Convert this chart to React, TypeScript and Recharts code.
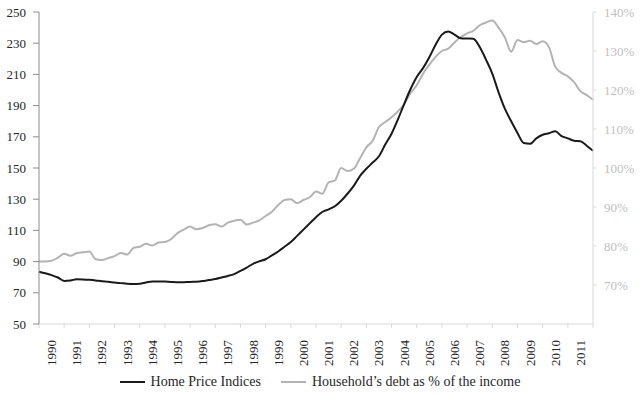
import React from 'react';
import { LineChart, Line, XAxis, YAxis } from 'recharts';

const startYear = 1990;
const endYear = 2012;

const yearTicks = [
  1990, 1991, 1992, 1993, 1994, 1995, 1996, 1997, 1998, 1999, 2000, 2001,
  2002, 2003, 2004, 2005, 2006, 2007, 2008, 2009, 2010, 2011, 2012,
];
const leftTicks = [50, 70, 90, 110, 130, 150, 170, 190, 210, 230, 250];
const rightTicks = [70, 80, 90, 100, 110, 120, 130, 140];

// quarterly values, 1990 Q1 ... 2012 Q1
const homePrice = [
  83.5, 82.5, 81.3, 79.8,
  77.6, 77.9, 78.7, 78.6,
  78.3, 77.9, 77.4, 77.1,
  76.6, 76.2, 75.8, 75.6,
  75.8, 76.6, 77.3, 77.3,
  77.2, 77.0, 76.7, 76.8,
  77.0, 77.1, 77.5, 78.2,
  78.8, 79.8, 80.8, 82.0,
  84.0, 86.2, 88.6, 90.2,
  91.5, 94.0, 96.5, 99.5,
  102.5, 106.5, 110.5, 114.5,
  118.5, 121.8, 123.5, 125.5,
  129.0, 133.5, 138.5, 145.0,
  149.5, 153.5, 157.5, 165.0,
  172.0, 181.0, 191.0, 200.5,
  208.4, 214.0, 221.0, 229.0,
  235.5, 237.5, 235.5, 233.2,
  233.0, 232.8, 227.5, 219.5,
  210.5, 198.5, 188.0, 180.0,
  172.5, 166.0, 165.5, 169.0,
  171.3, 172.3, 173.5, 170.5,
  169.0, 167.5, 167.2, 164.3,
  161.0,
];

const debtRatio = [
  76.0, 76.0, 76.2, 77.0,
  78.0, 77.5, 78.2, 78.4,
  78.6, 76.6, 76.4, 76.9,
  77.4, 78.2, 77.8, 79.5,
  79.8, 80.6, 80.1, 80.9,
  81.0, 81.8, 83.3, 84.2,
  85.0, 84.3, 84.6, 85.3,
  85.6, 85.0, 86.0, 86.5,
  86.7, 85.5, 86.0, 86.6,
  87.7, 88.8, 90.5, 91.8,
  92.0, 91.0, 91.8, 92.5,
  94.0, 93.4, 96.3, 96.8,
  100.0, 99.2, 99.8, 102.5,
  105.3, 107.0, 110.5, 111.8,
  113.0, 114.5, 116.3, 119.2,
  121.2, 124.2, 126.5, 128.5,
  130.0, 130.6, 132.2, 133.6,
  134.5, 135.2, 136.6, 137.3,
  137.8, 136.0, 133.5, 129.8,
  132.8, 132.3, 132.6, 131.8,
  132.5, 131.0, 126.0, 124.4,
  123.5, 122.0, 119.7, 118.7,
  117.5,
];

const data = homePrice.map((v, i) => ({
  t: startYear + i / 4,
  hpi: v,
  debt: debtRatio[i],
}));

const FONT = '"Liberation Serif", "Times New Roman", serif';
const PLOT_W = 554;
const HALF_YEAR = PLOT_W / (endYear - startYear) / 2;

const YearTick = (props: any) => {
  const { x, y, payload } = props;
  if (payload.value >= endYear) return null;
  return (
    <text
      transform={`translate(${x + HALF_YEAR},${y}) rotate(-90)`}
      textAnchor="end"
      dominantBaseline="central"
      fontFamily={FONT}
      fontSize={13}
      fill="#262626"
    >
      {payload.value}
    </text>
  );
};

const LegendContent = () => (
  <div
    style={{
      display: 'flex',
      justifyContent: 'center',
      alignItems: 'center',
      height: 26,
      fontFamily: FONT,
      fontSize: 14,
      color: '#262626',
    }}
  >
    <span style={{ display: 'inline-block', width: 25, height: 2, background: '#1a1a1a', marginRight: 6 }} />
    <span style={{ marginRight: 20 }}>Home Price Indices</span>
    <span style={{ display: 'inline-block', width: 25, height: 2, background: '#b3b3b3', marginRight: 6 }} />
    <span>Household’s debt as % of the income</span>
  </div>
);

export default function App() {
  return (
    <div style={{ width: 640, height: 395, background: '#fff', fontFamily: FONT }}>
      <style>{'body{margin:0}'}</style>
      <LineChart
        width={640}
        height={395}
        data={data}
        margin={{ top: 12, right: 0, left: 0, bottom: 26 }}
        style={{ fontFamily: FONT }}
      >
        <XAxis
          dataKey="t"
          type="number"
          domain={[startYear, endYear]}
          ticks={yearTicks}
          interval={0}
          height={45}
          stroke="#d9d9d9"
          tickSize={4}
          tickMargin={12}
          tick={(p: any) => <YearTick {...p} />}
        />
        <YAxis
          yAxisId="left"
          domain={[50, 250]}
          ticks={leftTicks}
          width={39}
          stroke="#8c8c8c"
          tickSize={6}
          tickMargin={7}
          tick={{ fontFamily: FONT, fontSize: 13, fill: '#262626' }}
        />
        <YAxis
          yAxisId="right"
          orientation="right"
          domain={[60, 140]}
          ticks={rightTicks}
          width={47}
          stroke="#d9d9d9"
          tickSize={3}
          tickMargin={8}
          tickFormatter={(v: number) => `${v}%`}
          tick={{ fontFamily: FONT, fontSize: 13, fill: '#bfbfbf', textAnchor: 'start' }}
        />
        <Line
          yAxisId="right"
          type="monotone"
          dataKey="debt"
          stroke="#b3b3b3"
          strokeWidth={2}
          dot={false}
          isAnimationActive={false}
        />
        <Line
          yAxisId="left"
          type="monotone"
          dataKey="hpi"
          stroke="#1a1a1a"
          strokeWidth={2}
          dot={false}
          isAnimationActive={false}
        />
        <foreignObject x={0} y={369} width={640} height={26}>
          <LegendContent />
        </foreignObject>
      </LineChart>
    </div>
  );
}
